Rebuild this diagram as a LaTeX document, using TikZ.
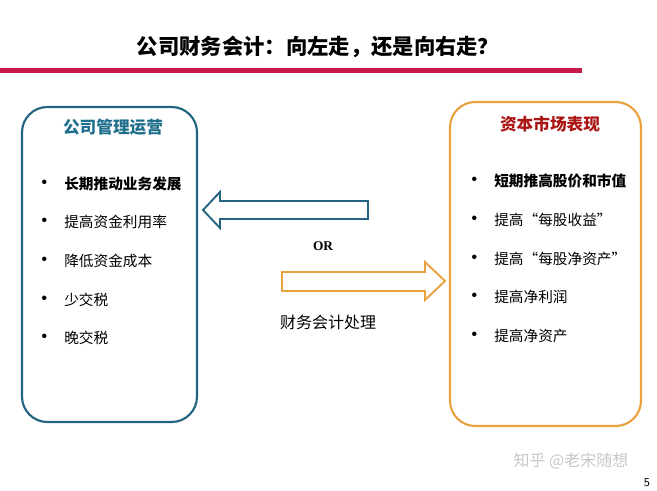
\documentclass[tikz,border=0pt]{standalone}
\usepackage{fontspec}
\setmainfont{Liberation Serif}
\newfontfamily\cjk{Noto Sans CJK SC}
\usetikzlibrary{positioning}

\definecolor{linered}{RGB}{200,24,70}
\definecolor{boxblue}{RGB}{35,100,130}
\definecolor{headblue}{RGB}{30,110,140}
\definecolor{boxorange}{RGB}{234,162,62}
\definecolor{headred}{RGB}{170,20,20}

\begin{document}
\begin{tikzpicture}[
    x=0.75pt, y=-0.75pt,
    node distance=12pt,
    panel/.style={draw, line width=1.6pt, rounded corners=19pt},
    head/.style={font=\cjk\bfseries\fontsize{12.5}{15}\selectfont},
    item/.style={anchor=west, inner sep=0pt, font=\cjk\fontsize{11}{13}\selectfont},
    dot/.style={inner sep=0pt, font=\fontsize{14}{14}\selectfont},
    fatarrow/.style={line width=1.4pt, fill=white, line join=miter}
]
    \useasboundingbox (0,0) rectangle (657,490);

    % Title and rule
    \node [font=\cjk\bfseries\fontsize{16}{19}\selectfont] (title) at (318,47) {公司财务会计：向左走，还是向右走？};
    \fill [linered] (0,67.5) rectangle (582,72.5);

    % Panels
    \draw [panel, boxblue] (22,107) rectangle (197,422);
    \draw [panel, boxorange] (450,102) rectangle (641,426);

    % Left panel
    \node [head, text=headblue] (lhead) at (113,127) {公司管理运营};
    \node [item, font=\cjk\bfseries\fontsize{11}{13}\selectfont] (l1) at (64,184) {长期推动业务发展};
    \node [item] (l2) at (64,222) {提高资金利用率};
    \node [item] (l3) at (64,261) {降低资金成本};
    \node [item] (l4) at (64,300) {少交税};
    \node [item] (l5) at (64,338) {晚交税};
    \node [dot, left=of l1] (bl1) {•};
    \node [dot, left=of l2] (bl2) {•};
    \node [dot, left=of l3] (bl3) {•};
    \node [dot, left=of l4] (bl4) {•};
    \node [dot, left=of l5] (bl5) {•};

    % Right panel
    \node [head, text=headred] (rhead) at (550,124) {资本市场表现};
    \node [item, font=\cjk\bfseries\fontsize{11}{13}\selectfont] (r1) at (494,181) {短期推高股价和市值};
    \node [item] (r2) at (494,220) {提高“每股收益”};
    \node [item] (r3) at (494,259) {提高“每股净资产”};
    \node [item] (r4) at (494,297) {提高净利润};
    \node [item] (r5) at (494,336) {提高净资产};
    \node [dot, left=of r1] (br1) {•};
    \node [dot, left=of r2] (br2) {•};
    \node [dot, left=of r3] (br3) {•};
    \node [dot, left=of r4] (br4) {•};
    \node [dot, left=of r5] (br5) {•};

    % Block arrows
    \filldraw [fatarrow, draw=boxblue] (368,201) -- (220,201) -- (220,192) -- (203,210)
        -- (220,228) -- (220,219) -- (368,219) -- cycle;
    \filldraw [fatarrow, draw=boxorange] (282,272) -- (425,272) -- (425,262) -- (445,281)
        -- (425,300) -- (425,291) -- (282,291) -- cycle;
    \node [font=\bfseries\fontsize{10}{12}\selectfont] (or) at (323,246) {OR};
    \node [font=\cjk\fontsize{12}{14}\selectfont] (acct) at (328,322) {财务会计处理};

    % Footer
    \node [font=\cjk\fontsize{12}{14}\selectfont, text=black!22] (mark) at (571,461) {知乎 @老宋随想};
    \node [font=\sffamily\fontsize{9}{11}\selectfont] (page) at (647,483) {5};
\end{tikzpicture}
\end{document}
